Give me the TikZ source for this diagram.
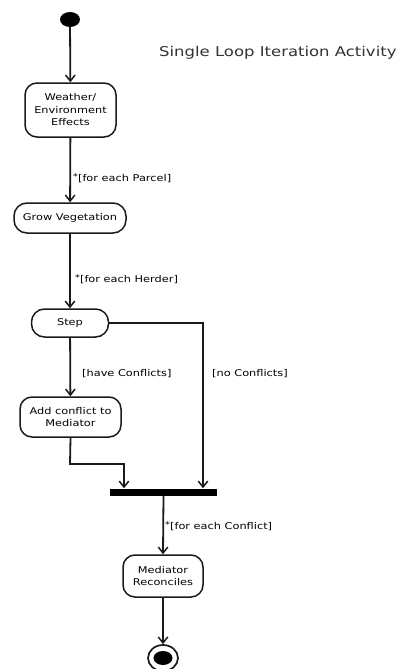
\documentclass[tikz,border=0pt]{standalone}
\usepackage{fontspec}
\setmainfont{DejaVu Sans}[FakeStretch=1.22]
\usetikzlibrary{arrows.meta,shapes.geometric}
\definecolor{ln}{HTML}{1a1a1a}
\tikzset{
  act/.style={draw=ln, line width=1.5pt, rounded corners=12pt, align=center, inner sep=1pt,
    font=\fontsize{9.3}{12.5}\selectfont, text=black},
  flow/.style={draw=ln, line width=1.8pt, -{Straight Barb[length=6pt,width=9.5pt,line width=1.5pt]}},
  lbl/.style={anchor=west, inner sep=0pt, font=\fontsize{9.3}{11}\selectfont, text=black},
}
\newcommand{\myast}{\raisebox{2.5pt}{\fontsize{8}{8}\selectfont *}}
\begin{document}
\begin{tikzpicture}[x=1pt,y=-1pt]
\useasboundingbox (0,0) rectangle (401,669);
% title
\node[anchor=west, inner sep=0pt, font=\fontsize{13.5}{16}\selectfont, text=black!80] (title) at (159,53) {Single Loop Iteration Activity};
% start
\node[ellipse, fill=black, minimum width=20pt, minimum height=15pt, inner sep=0pt] (start) at (70,19.5) {};
% activities
\node[act, minimum width=91pt, minimum height=54pt] (weather) at (70.5,110) {Weather/\\Environment\\Effects};
\node[act, minimum width=112pt, minimum height=30pt, rounded corners=13pt] (grow) at (70,218) {Grow Vegetation};
\node[act, minimum width=77pt, minimum height=28pt, rounded corners=13pt] (step) at (70,323) {Step};
\node[act, minimum width=101pt, minimum height=40pt] (add) at (70.5,417) {Add conflict to\\Mediator};
\node[fill=black, minimum width=107pt, minimum height=7pt, inner sep=0pt] (bar) at (163.5,492) {};
\node[act, minimum width=80pt, minimum height=42pt] (med) at (163,576) {Mediator\\Reconciles};
% end
\node[ellipse, draw=ln, line width=1.7pt, minimum width=30pt, minimum height=26pt, inner sep=0pt] (end) at (163,658) {};
\node[ellipse, fill=black, minimum width=19pt, minimum height=14pt, inner sep=0pt] (endin) at (163,658) {};
% connectors
\draw[flow] (start) -- (weather);
\draw[flow] (weather) -- (grow);
\draw[flow] (grow) -- (step);
\draw[flow] (step) -- (add);
\coordinate (c1) at (70,464);
\coordinate (c2) at (124,464);
\coordinate (c3) at (203,323);
\draw[flow] (add.south) -- (c1) -- (c2) -- (c2 |- bar.north);
\draw[flow] (step.east) -- (c3) -- (c3 |- bar.north);
\draw[flow] (bar.south) -- (med.north);
\draw[flow] (med.south) -- (end.north);
% labels
\node[lbl] (l1) at (73,178) {\myast[for each Parcel]};
\node[lbl] (l2) at (75,279) {\myast[for each Herder]};
\node[lbl] (l3) at (82,374) {[have Conflicts]};
\node[lbl] (l4) at (212,374) {[no Conflicts]};
\node[lbl] (l5) at (165,526) {\myast[for each Conflict]};
\end{tikzpicture}
\end{document}
